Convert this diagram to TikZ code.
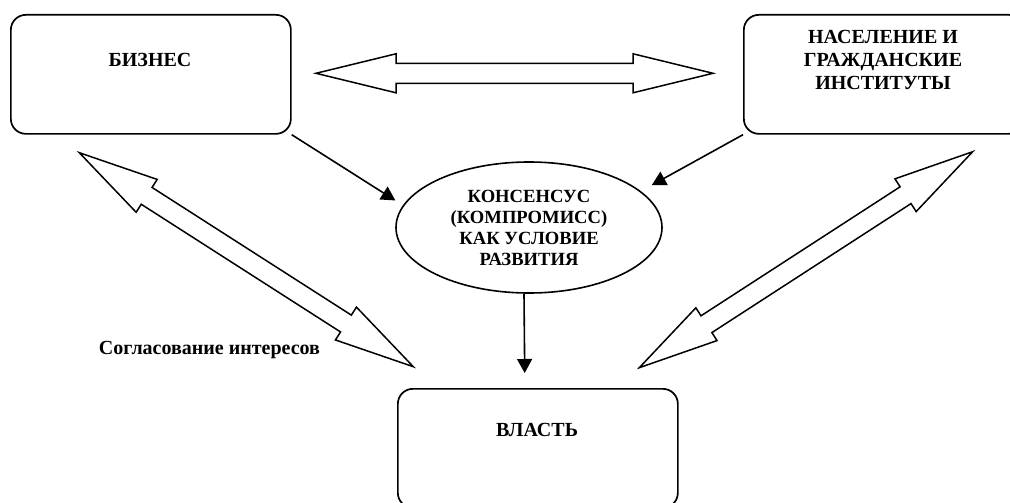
\documentclass[tikz,border=0pt]{standalone}
\usepackage{fontspec}
\setmainfont{Liberation Serif}
\usetikzlibrary{calc,shapes.geometric,arrows.meta}
\newcommand\dblarrow[2]{%
  \draw[blk] (#1)
    -- ($(#1)!80pt!(#2)!19.5pt!90:(#2)$)
    -- ($(#1)!80pt!(#2)!10pt!90:(#2)$)
    -- ($(#2)!80pt!(#1)!10pt!-90:(#1)$)
    -- ($(#2)!80pt!(#1)!19.5pt!-90:(#1)$)
    -- (#2)
    -- ($(#2)!80pt!(#1)!19.5pt!90:(#1)$)
    -- ($(#2)!80pt!(#1)!10pt!90:(#1)$)
    -- ($(#1)!80pt!(#2)!10pt!-90:(#2)$)
    -- ($(#1)!80pt!(#2)!19.5pt!-90:(#2)$)
    -- cycle;}
\begin{document}
\begin{tikzpicture}[x=1pt,y=-1pt,
  box/.style={draw, line width=1.7pt, rounded corners=15pt, minimum width=280pt,
    minimum height=119pt, inner sep=0pt, anchor=north west},
  lbl/.style={font=\fontsize{20}{23}\selectfont\bfseries, align=center, inner sep=0pt},
  elltext/.style={font=\fontsize{18.6}{21}\selectfont\bfseries, align=center},
  conn/.style={line width=1.6pt, -{Triangle[length=14pt,width=15pt]}},
  blk/.style={draw, line width=1.5pt, line join=miter, fill=white}]
\useasboundingbox (0,0) rectangle (1010,503);
\clip (0,0) rectangle (1010,503);
% boxes
\node[box] (biz) at (10,14) {};
\node[box] (nas) at (743,14) {};
\node[box] (vl) at (397,388) {};
\node[lbl] (bizt) at (150,60) {БИЗНЕС};
\node[lbl] (nast) at (883,60) {НАСЕЛЕНИЕ И\\ГРАЖДАНСКИЕ\\ИНСТИТУТЫ};
\node[lbl] (vlt) at (537,430) {ВЛАСТЬ};
% ellipse
\node[ellipse, draw, line width=1.6pt, minimum width=266pt, minimum height=131pt,
  inner sep=0pt, elltext] (ell) at (529,227.5)
  {КОНСЕНСУС\\(КОМПРОМИСС)\\КАК УСЛОВИЕ\\РАЗВИТИЯ};
% label
\node[lbl] (agr) at (209.5,350) {Согласование интересов};
% block double arrows
\coordinate (t1a) at (316,73.3);
\coordinate (t1b) at (713,73.3);
\coordinate (t2a) at (79.3,152.7);
\coordinate (t2b) at (413.3,366.7);
\coordinate (t3a) at (972.7,151.7);
\coordinate (t3b) at (639.3,367.7);
\dblarrow{t1a}{t1b}
\dblarrow{t2a}{t2b}
\dblarrow{t3a}{t3b}
% connectors
\draw[conn, shorten >=9pt] (biz.south east) -- (ell.170);
\draw[conn, shorten >=12.5pt] (nas.south west) -- (ell.18);
\draw[conn, shorten >=15pt] ([xshift=-5pt]ell.south) -- ([xshift=-13pt]vl.north);
\end{tikzpicture}
\end{document}
